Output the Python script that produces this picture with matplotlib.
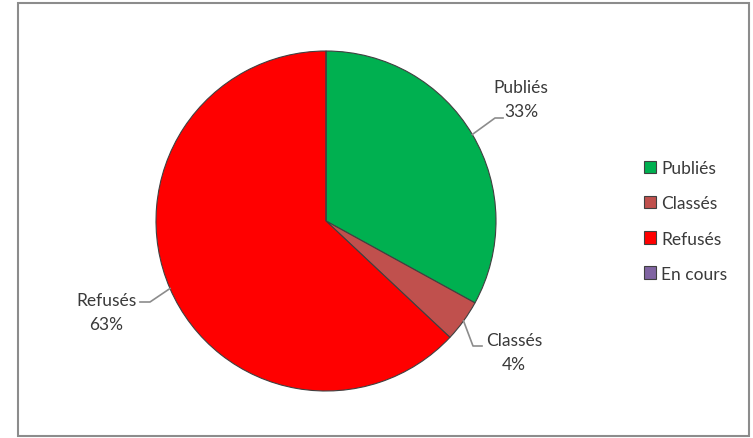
import numpy as np
import matplotlib
matplotlib.use('Agg')
import matplotlib.pyplot as plt
from matplotlib.patches import Rectangle

# Data
categories = ['Publiés', 'Classés', 'Refusés', 'En cours']
shares = [33, 4, 63, 0]
colors = ['#00B050', '#C0504D', '#FF0000', '#8064A2']

W, H = 753, 439


def main():
    plt.rcParams['font.family'] = ['Lato', 'DejaVu Sans']

    fig = plt.figure(figsize=(W / 100, H / 100), dpi=100)
    ax = fig.add_axes([0, 0, 1, 1])

    # chart area border
    ax.add_patch(Rectangle((18, 2), 731, 433, fill=False,
                           edgecolor='#8c8c8c', linewidth=1.5))

    cx, cy, r = 326, H - 222, 170
    wedges, _ = ax.pie(shares, colors=colors, startangle=90, counterclock=False,
                       center=(cx, cy), radius=r, frame=True,
                       wedgeprops=dict(edgecolor='#404040', linewidth=0.8))
    ax.set_xlim(0, W)
    ax.set_ylim(0, H)
    ax.set_aspect('equal')
    ax.axis('off')

    # data labels with leader lines
    total = sum(shares)
    label_cfg = {
        'Publiés': dict(elbow=(495, 119), end=(503, 119), text=(521, 100)),
        'Classés': dict(elbow=(473, 347), end=(482, 347), text=(514, 353)),
        'Refusés': dict(elbow=(150, 303), end=(140, 303), text=(106, 313)),
    }
    start = 90.0
    for name, val in zip(categories, shares):
        sweep = 360.0 * val / total
        mid = np.deg2rad(start - sweep / 2)
        start -= sweep
        if name not in label_cfg:
            continue
        cfg = label_cfg[name]
        px, py = cx + r * np.cos(mid), cy + r * np.sin(mid)
        xs = [px, cfg['elbow'][0], cfg['end'][0]]
        ys = [py, H - cfg['elbow'][1], H - cfg['end'][1]]
        ax.plot(xs, ys, color='#8c8c8c', linewidth=1.2)
        ax.text(cfg['text'][0], H - cfg['text'][1], f"{name}\n{val}%",
                ha='center', va='center', fontsize=12.5, color='#3a3a3a',
                linespacing=1.6)

    leg = ax.legend(wedges, categories, loc='center left',
                    bbox_to_anchor=(628 / W, (H - 222) / H),
                    bbox_transform=fig.transFigure, frameon=False,
                    fontsize=12.5, handlelength=0.7, handleheight=0.7,
                    handletextpad=0.3, labelspacing=1.1)
    for t in leg.get_texts():
        t.set_color('#3a3a3a')

    fig.savefig('out.png', dpi=100)


if __name__ == '__main__':
    main()
